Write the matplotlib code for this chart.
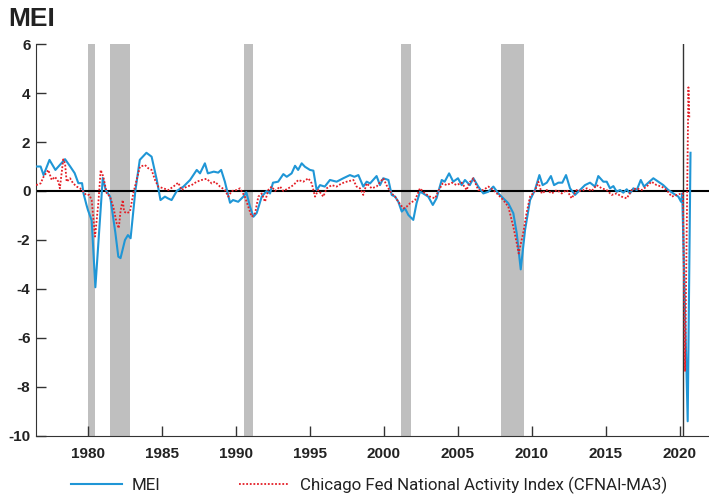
import matplotlib
matplotlib.use('Agg')
import matplotlib.pyplot as plt

plt.rcParams['font.family'] = ['Liberation Sans', 'DejaVu Sans']
plt.rcParams['font.weight'] = 'bold'
plt.rcParams['axes.unicode_minus'] = False

# Recessions (start, end) in decimal years
rec_start = [1980.0, 1981.5, 1990.52, 2001.17, 2007.93]
rec_end = [1980.5, 1982.83, 1991.15, 2001.84, 2009.49]
covid_line = 2020.18

# MEI (decimal year, value)
mei_years = [1976.5, 1976.8, 1977.0, 1977.4, 1977.8, 1978.1, 1978.45, 1978.8, 1979.1, 1979.35,
             1979.6, 1979.7, 1979.9, 1980.0, 1980.25, 1980.5, 1981.0, 1981.2, 1981.5, 1981.85,
             1982.05, 1982.2, 1982.5, 1982.7, 1982.88, 1983.2, 1983.5, 1983.95, 1984.3, 1984.65,
             1984.9, 1985.2, 1985.4, 1985.65, 1986.0, 1986.45, 1986.9, 1987.35, 1987.57, 1987.9,
             1988.1, 1988.5, 1988.8, 1989.0, 1989.25, 1989.6, 1989.8, 1990.15, 1990.5, 1990.7,
             1990.95, 1991.18, 1991.4, 1991.74, 1992.07, 1992.3, 1992.5, 1992.85, 1993.2, 1993.43,
             1993.76, 1993.99, 1994.2, 1994.44, 1994.66, 1995.0, 1995.23, 1995.45, 1995.68, 1996.0,
             1996.35, 1996.8, 1997.25, 1997.7, 1998.0, 1998.27, 1998.6, 1998.83, 1999.06, 1999.5,
             1999.73, 1999.95, 2000.3, 2000.52, 2000.75, 2000.97, 2001.2, 2001.42, 2001.65, 2001.98,
             2002.2, 2002.43, 2002.65, 2002.99, 2003.3, 2003.55, 2003.9, 2004.1, 2004.4, 2004.68,
             2005.0, 2005.25, 2005.47, 2005.8, 2006.04, 2006.37, 2006.71, 2007.05, 2007.39, 2007.73,
             2008.06, 2008.4, 2008.74, 2008.97, 2009.24, 2009.53, 2009.87, 2010.2, 2010.5, 2010.72,
             2011.0, 2011.28, 2011.49, 2011.78, 2012.05, 2012.3, 2012.57, 2012.91, 2013.25, 2013.58,
             2013.92, 2014.26, 2014.48, 2014.82, 2015.05, 2015.27, 2015.5, 2015.72, 2015.95, 2016.17,
             2016.4, 2016.62, 2016.85, 2017.08, 2017.35, 2017.57, 2017.86, 2018.2, 2018.54, 2018.87,
             2019.21, 2019.55, 2019.89, 2020.07, 2020.15, 2020.52, 2020.71]
mei_values = [1.0, 1.0, 0.65, 1.27, 0.86, 1.06, 1.3, 1.0, 0.73, 0.32,
              0.32, -0.1, -0.57, -0.78, -1.2, -3.93, 0.53, 0.04, -0.23, -1.7,
              -2.68, -2.74, -2.0, -1.8, -1.93, 0.0, 1.27, 1.56, 1.4, 0.45,
              -0.37, -0.23, -0.3, -0.37, 0.0, 0.18, 0.45, 0.86, 0.72, 1.13,
              0.72, 0.79, 0.75, 0.86, 0.38, -0.48, -0.37, -0.44, -0.23, -0.05,
              -0.64, -1.05, -0.9, -0.23, 0.0, -0.1, 0.34, 0.38, 0.69, 0.58,
              0.72, 1.03, 0.86, 1.13, 0.99, 0.86, 0.83, 0.04, 0.24, 0.18,
              0.45, 0.38, 0.52, 0.65, 0.58, 0.65, 0.18, 0.38, 0.31, 0.61,
              0.24, 0.52, 0.45, -0.16, -0.23, -0.44, -0.84, -0.71, -0.98, -1.18,
              -0.5, -0.03, -0.1, -0.23, -0.57, -0.3, 0.45, 0.38, 0.72, 0.38,
              0.52, 0.24, 0.45, 0.24, 0.52, 0.18, -0.1, -0.03, 0.18, -0.1,
              -0.3, -0.5, -0.91, -1.73, -3.2, -1.6, -0.37, 0.04, 0.65, 0.24,
              0.34, 0.61, 0.24, 0.34, 0.34, 0.65, 0.11, -0.16, 0.04, 0.24,
              0.34, 0.18, 0.61, 0.38, 0.38, 0.11, 0.2, -0.03, 0.04, -0.07,
              0.07, -0.1, 0.11, 0.04, 0.45, 0.18, 0.34, 0.52, 0.38, 0.24,
              0.04, -0.1, -0.23, -0.44, -0.1, -9.4, 1.56]

# CFNAI-MA3 (decimal year, value)
cfnai_years = [1976.5, 1976.8, 1977.0, 1977.32, 1977.55, 1977.77, 1978.0, 1978.1, 1978.33, 1978.45,
               1978.56, 1978.79, 1979.0, 1979.24, 1979.46, 1979.69, 1979.87, 1980.09, 1980.25, 1980.48,
               1980.7, 1980.86, 1981.04, 1981.27, 1981.49, 1981.71, 1981.94, 1982.08, 1982.21, 1982.35,
               1982.44, 1982.62, 1982.84, 1983.06, 1983.29, 1983.51, 1983.85, 1984.07, 1984.3, 1984.53,
               1984.75, 1985.09, 1985.43, 1985.77, 1986.1, 1986.33, 1986.67, 1987.0, 1987.35, 1987.69,
               1988.02, 1988.36, 1988.58, 1988.92, 1989.26, 1989.48, 1989.71, 1990.05, 1990.27, 1990.6,
               1990.83, 1991.06, 1991.29, 1991.51, 1991.74, 1991.96, 1992.18, 1992.41, 1992.64, 1992.98,
               1993.2, 1993.54, 1993.88, 1994.21, 1994.55, 1994.89, 1995.12, 1995.34, 1995.56, 1995.9,
               1996.13, 1996.47, 1996.8, 1997.14, 1997.48, 1997.93, 1998.15, 1998.38, 1998.6, 1998.83,
               1999.17, 1999.5, 1999.95, 2000.22, 2000.52, 2000.75, 2000.97, 2001.31, 2001.53, 2001.76,
               2002.1, 2002.43, 2002.77, 2003.11, 2003.45, 2003.67, 2003.97, 2004.24, 2004.58, 2004.91,
               2005.25, 2005.59, 2005.76, 2006.04, 2006.37, 2006.71, 2007.05, 2007.39, 2007.73, 2008.06,
               2008.4, 2008.74, 2008.97, 2009.1, 2009.4, 2009.63, 2009.87, 2010.2, 2010.43, 2010.66,
               2011.0, 2011.34, 2011.68, 2012.01, 2012.35, 2012.68, 2013.02, 2013.36, 2013.7, 2014.03,
               2014.37, 2014.71, 2015.05, 2015.38, 2015.72, 2016.06, 2016.4, 2016.74, 2017.07, 2017.41,
               2017.75, 2018.07, 2018.42, 2018.76, 2019.1, 2019.44, 2019.77, 2020.1, 2020.2, 2020.34,
               2020.57, 2020.63]
cfnai_values = [0.24, 0.31, 0.58, 0.86, 0.45, 0.58, 0.38, 0.11, 1.29, 1.13,
                0.38, 0.52, 0.31, 0.18, 0.11, -0.03, -0.16, -0.16, -0.37, -1.86,
                -0.5, 0.86, 0.58, -0.1, -0.23, -0.64, -1.32, -1.52, -0.78, -0.37,
                -0.84, -0.91, -0.84, -0.1, 0.45, 0.99, 1.06, 0.93, 0.86, 0.45,
                0.18, 0.11, 0.04, 0.18, 0.34, 0.04, 0.18, 0.24, 0.38, 0.45,
                0.5, 0.31, 0.38, 0.18, 0.04, -0.23, 0.0, 0.04, 0.11, -0.23,
                -0.64, -1.05, -0.91, -0.23, -0.1, -0.44, 0.04, 0.18, 0.0, 0.18,
                0.0, 0.11, 0.24, 0.45, 0.38, 0.52, 0.31, -0.23, 0.04, -0.23,
                0.11, 0.24, 0.18, 0.31, 0.38, 0.45, 0.18, 0.11, -0.16, 0.31,
                0.11, 0.18, 0.52, 0.18, -0.1, -0.23, -0.44, -0.71, -0.64, -0.5,
                -0.37, 0.11, -0.1, -0.23, -0.3, 0.0, 0.31, 0.24, 0.34, 0.24,
                0.34, 0.04, 0.34, 0.52, 0.04, 0.04, 0.18, 0.04, -0.16, -0.37,
                -0.64, -1.46, -2.13, -2.55, -1.73, -0.91, -0.23, 0.0, 0.38, -0.1,
                0.04, -0.1, 0.04, -0.1, 0.04, -0.3, 0.04, 0.0, 0.11, 0.0,
                0.24, 0.11, 0.04, -0.16, -0.1, -0.23, -0.3, 0.04, 0.11, 0.04,
                0.18, 0.38, 0.24, 0.18, 0.04, -0.23, -0.16, -0.1, -0.1, -7.37,
                4.23, 3.0]

fig = plt.figure(figsize=(7.09, 4.99), dpi=100)
ax = fig.add_axes([0.0508, 0.1263, 0.9492, 0.7855])

for s, e in zip(rec_start, rec_end):
    ax.axvspan(s, e, color='#bfbfbf', lw=0, zorder=0)
ax.axvline(covid_line, color='#333333', lw=1.0, zorder=1)
ax.axhline(0, color='black', lw=1.5, zorder=2)

ax.plot(mei_years, mei_values, color='#1f96d6', lw=1.5, label='MEI', zorder=3)
ax.plot(cfnai_years, cfnai_values, color='#e41e26', lw=1.3, linestyle=(0, (1, 1)),
        label='Chicago Fed National Activity Index (CFNAI-MA3)', zorder=4)

ax.set_xlim(1976.49, 2021.96)
ax.set_ylim(-10, 6)
ax.set_xticks([1980, 1985, 1990, 1995, 2000, 2005, 2010, 2015, 2020])
ax.set_yticks([-10, -8, -6, -4, -2, 0, 2, 4, 6])
ax.tick_params(direction='in', length=7, width=1, color='#333333', labelsize=11,
               labelcolor='#222222')
ax.tick_params(axis='x', pad=8)
ax.tick_params(axis='y', pad=4)
for side in ['top', 'right']:
    ax.spines[side].set_visible(False)
for side in ['left', 'bottom']:
    ax.spines[side].set_color('#333333')

fig.text(0.012, 0.985, 'MEI', fontsize=19, fontweight='bold', color='#222222',
         ha='left', va='top')

fig.legend(loc='center left', bbox_to_anchor=(0.1, 0.028), ncol=2, frameon=False,
           prop={'family': 'Roboto', 'size': 12.2, 'weight': 'normal'},
           handlelength=3.0, handletextpad=0.6, columnspacing=4.6,
           borderpad=0, borderaxespad=0, labelcolor='#222222')

fig.savefig('out.png', dpi=100)
